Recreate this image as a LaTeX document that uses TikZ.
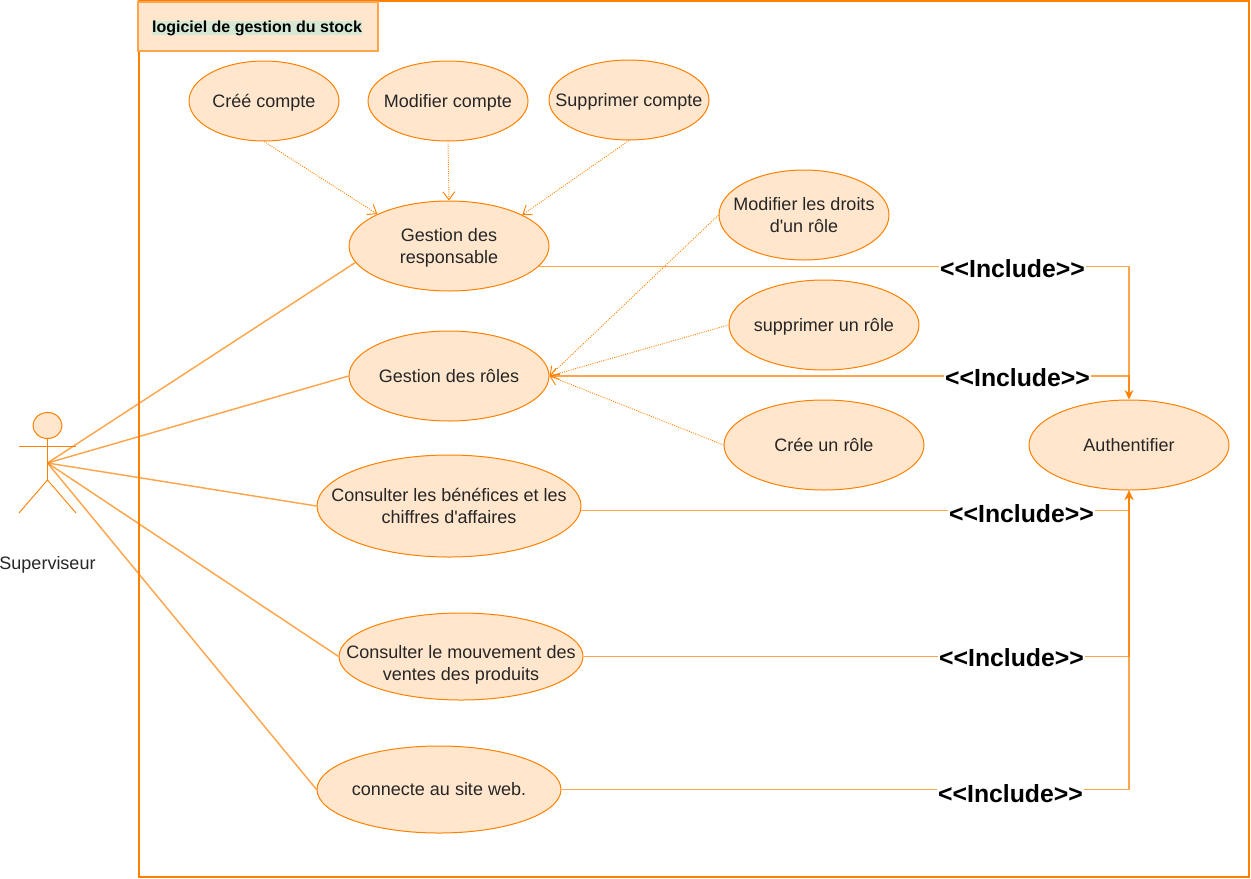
\documentclass[tikz,border=0pt]{standalone}
\usepackage{fontspec}
\setmainfont{Liberation Sans}
\usetikzlibrary{shapes.geometric,arrows.meta}
\definecolor{caseorange}{HTML}{FF8000}
\definecolor{casefill}{HTML}{FFE6CC}
\definecolor{titlemark}{HTML}{D5E8D4}
\tikzset{
    usecase/.style={draw=caseorange, fill=casefill, ellipse, inner xsep=-40pt, inner ysep=-20pt, line width=0.75pt, text=black!85, align=center, font=\fontsize{13.5}{16.5}\selectfont},
    actorline/.style={draw=caseorange, line width=1.1pt, draw opacity=0.7},
    limbline/.style={draw=caseorange, line width=0.7pt},
    dotline/.style={draw=caseorange, line width=0.7pt, densely dotted, -{Straight Barb[length=6pt,width=9pt]}},
    includeline/.style={draw=caseorange, line width=1.1pt, draw opacity=0.7, -{Stealth[length=7pt,width=6.5pt,fill=caseorange]}},
    includelabel/.style={fill=white, inner xsep=1pt, inner ysep=0pt, font=\fontsize{18.6}{18}\selectfont\bfseries}
}
\begin{document}
\begin{tikzpicture}[x=0.75pt, y=-0.75pt]
    \useasboundingbox (0,0) rectangle (1251,878);
    % System frame and title
    \node[draw=caseorange, line width=1.8pt, rectangle, minimum width=1110*0.75pt, minimum height=876*0.75pt, inner sep=0pt] (frame) at (694,439) {};
    \node[draw=caseorange!70, fill=casefill, rectangle, line width=0.8pt, minimum width=240*0.75pt, minimum height=49*0.75pt, inner sep=0pt] (titlebox) at (258,26.5) {};
    \node[fill=titlemark, inner sep=0pt, font=\fontsize{12}{12}\selectfont\bfseries] (titletext) at (257,28) {logiciel de gestion du stock};

    % Actor
    \node[draw=caseorange, fill=casefill, ellipse, line width=0.75pt, minimum width=29*0.75pt, minimum height=26*0.75pt, inner sep=0pt] (head) at (47.5,425.5) {};
    \coordinate (hip) at (47.5,463);
    \coordinate (crotch) at (47.5,480);
    \coordinate (armL) at (19,446);
    \coordinate (armR) at (76,446);
    \coordinate (footL) at (19,513);
    \coordinate (footR) at (76,513);
    \draw[limbline] (head.south) -- (crotch);
    \draw[limbline] (armL) -- (armR);
    \draw[limbline] (footL) -- (crotch) -- (footR);
    \node[font=\fontsize{13.5}{14}\selectfont, text=black!85, inner sep=0pt] (superviseur) at (47.5,565) {Superviseur};

    % Use cases
    \node[usecase, text height=13pt, minimum width=150*0.75pt, minimum height=80*0.75pt] (cree) at (264,101) {Créé compte};
    \node[usecase, text height=13pt, minimum width=160*0.75pt, minimum height=80*0.75pt] (modif) at (448,101) {Modifier compte};
    \node[usecase, text height=13pt, minimum width=160*0.75pt, minimum height=80*0.75pt] (suppr) at (629,100) {Supprimer compte};
    \node[usecase, text height=29.2pt, minimum width=200*0.75pt, minimum height=90*0.75pt] (resp) at (449,246) {Gestion des\\responsable};
    \node[usecase, minimum width=200*0.75pt, minimum height=90*0.75pt] (roles) at (449,376) {Gestion des rôles};
    \node[usecase, minimum width=170*0.75pt, minimum height=90*0.75pt] (droits) at (804,215) {Modifier les droits\\d\textquotesingle un rôle};
    \node[usecase, text height=13pt, minimum width=190*0.75pt, minimum height=90*0.75pt] (supprole) at (824,325) {supprimer un rôle};
    \node[usecase, minimum width=200*0.75pt, minimum height=90*0.75pt] (creerole) at (824,445) {Crée un rôle};
    \node[usecase, minimum width=200*0.75pt, minimum height=90*0.75pt] (auth) at (1129,445) {Authentifier};
    \node[usecase, minimum width=264*0.75pt, minimum height=102*0.75pt] (benef) at (449,506) {Consulter les bénéfices et les\\chiffres d\textquotesingle affaires};
    \node[usecase, text height=38.2pt, minimum width=244*0.75pt, minimum height=87*0.75pt] (mouv) at (461,656.5) {Consulter le mouvement des\\ventes des produits};
    \node[usecase, minimum width=244*0.75pt, minimum height=87*0.75pt] (site) at (439,789.5) {connecte au site web.};

    % Actor links
    \draw[actorline] (hip) -- (resp.190);
    \draw[actorline] (hip) -- (roles.west);
    \draw[actorline] (hip) -- (benef.west);
    \draw[actorline] (hip) -- (mouv.west);
    \draw[actorline] (hip) -- (site.west);

    % Dotted arrows
    \draw[dotline] (cree.south) -- (resp.156.4);
    \draw[dotline] (modif.south) -- (resp.north);
    \draw[dotline] (suppr.south) -- (resp.23.6);
    \draw[dotline] (droits.west) -- (roles.east);
    \draw[dotline] (supprole.west) -- (roles.east);
    \draw[dotline] (creerole.west) -- (roles.east);

    % Include links
    \draw[includeline] (resp.-13.2) -| (auth.north);
    \draw[includeline] (roles.east) -| (auth.north);
    \draw[includeline] (benef.-2) -| (auth.south);
    \draw[includeline] (mouv.east) -| (auth.south);
    \draw[includeline] (site.east) -| (auth.south);

    % Include labels
    \node[includelabel] (inc1) at (1012.5,269) {<{}<Include>{}>};
    \node[includelabel] (inc2) at (1017.5,378) {<{}<Include>{}>};
    \node[includelabel] (inc3) at (1021.5,514) {<{}<Include>{}>};
    \node[includelabel] (inc4) at (1011.5,658) {<{}<Include>{}>};
    \node[includelabel] (inc5) at (1010.5,794) {<{}<Include>{}>};
\end{tikzpicture}
\end{document}
